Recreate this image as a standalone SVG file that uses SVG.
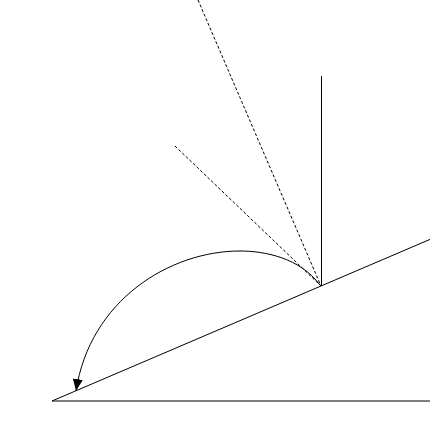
<svg xmlns="http://www.w3.org/2000/svg" width="430" height="426" viewBox="0 0 430 426">
<style>
.ln{stroke:#000;stroke-width:1;fill:none}
.ds{stroke:#000;stroke-width:1;fill:none;stroke-dasharray:3 2}
</style>
<defs>
<marker id="ah" markerWidth="12" markerHeight="10" refX="12" refY="5" orient="auto" markerUnits="userSpaceOnUse">
<path d="M0,0 L12,5 L0,10 Z" fill="#000"/>
</marker>
</defs>
<rect width="430" height="426" fill="#fff"/>
<g id="ground">
<line class="ln" x1="52" y1="401" x2="430" y2="401"/>
</g>
<g id="incline">
<line class="ln" x1="52" y1="401" x2="430" y2="239.4"/>
</g>
<g id="normal">
<line class="ln" x1="321.5" y1="76" x2="321.5" y2="286"/>
</g>
<g id="connectors">
<line class="ds" x1="198" y1="0" x2="321" y2="286"/>
<line class="ds" x1="175" y1="146" x2="321" y2="286"/>
<path class="ln" d="M320,285 C300,258 265,251 240,251 C170,251 90,300 76,391" marker-end="url(#ah)"/>
</g>
</svg>
